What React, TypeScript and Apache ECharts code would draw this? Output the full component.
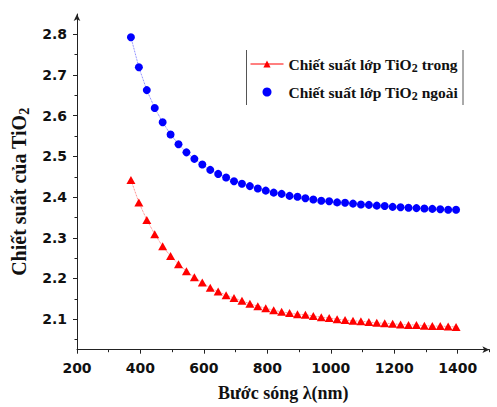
import React, { useEffect, useRef } from "react";
import * as echarts from "echarts";

const wavelength = [
  370, 395, 420, 445, 470, 495, 520, 545, 570, 595, 620, 645, 670, 695,
  720, 745, 770, 795, 820, 845, 870, 895, 920, 945, 970, 995, 1020, 1045,
  1070, 1095, 1120, 1145, 1170, 1195, 1220, 1245, 1270, 1295, 1320, 1345,
  1370, 1395,
];
const nInner = [
  2.442, 2.387, 2.344, 2.309, 2.279, 2.255, 2.235, 2.218, 2.203, 2.19,
  2.177, 2.168, 2.159, 2.152, 2.145, 2.138, 2.132, 2.127, 2.122, 2.118,
  2.115, 2.112, 2.111, 2.108, 2.105, 2.103, 2.1, 2.098, 2.096, 2.095, 2.093,
  2.091, 2.09, 2.089, 2.087, 2.086, 2.086, 2.084, 2.083, 2.083, 2.082, 2.081,
];
const nOuter = [
  2.793, 2.719, 2.663, 2.619, 2.584, 2.554, 2.53, 2.51, 2.494, 2.48, 2.467,
  2.457, 2.448, 2.439, 2.433, 2.427, 2.421, 2.416, 2.411, 2.408, 2.403,
  2.401, 2.397, 2.394, 2.391, 2.39, 2.387, 2.386, 2.384, 2.382, 2.381,
  2.379, 2.378, 2.376, 2.375, 2.374, 2.373, 2.372, 2.371, 2.37, 2.369, 2.369,
];
const xMajorTicks = [200, 400, 600, 800, 1000, 1200, 1400];
const xMinorTicks = [300, 500, 700, 900, 1100, 1300, 1500];
const yMajorTicks = [2.1, 2.2, 2.3, 2.4, 2.5, 2.6, 2.7, 2.8];
const yMinorTicks = [2.05, 2.15, 2.25, 2.35, 2.45, 2.55, 2.65, 2.75];
const seriesNames = ["Chiết suất lớp TiO2 trong", "Chiết suất lớp TiO2 ngoài"];

const SERIF = "'Liberation Serif', 'Times New Roman', serif";
const SANS = "'DejaVu Sans', sans-serif";
const AXIS_COLOR = "#222";

export default function App() {
  const ref = useRef<HTMLDivElement>(null);
  useEffect(() => {
    if (!ref.current) return;
    const chart = echarts.init(ref.current, undefined, { renderer: "svg" });
    const tickLabel = {
      fontFamily: SANS,
      fontWeight: "bold" as const,
      fontSize: 14,
      color: "#111",
    };
    chart.setOption({
      animation: false,
      backgroundColor: "#fff",
      grid: { left: 77, right: 7.6, top: 14, bottom: 57.3, containLabel: false },
      legend: {
        orient: "vertical",
        left: 245,
        top: 51,
        itemWidth: 33,
        itemHeight: 9,
        itemGap: 10,
        data: [
          { name: seriesNames[0], lineStyle: { type: "solid", width: 1, opacity: 1 } },
          { name: seriesNames[1], icon: "circle", itemStyle: { color: "#0000ff" } },
        ],
        formatter: (name: string) => name.replace("TiO2", "TiO{sub|2}"),
        textStyle: {
          fontFamily: SERIF,
          fontWeight: "bold",
          fontSize: 15.5,
          color: "#111",
          rich: {
            sub: {
              fontFamily: SERIF,
              fontWeight: "bold",
              fontSize: 12,
              color: "#111",
              padding: [8, 0, 0, 0],
            },
          },
        },
      },
      graphic: [
        { type: "line", shape: { x1: 246.5, y1: 50, x2: 246.5, y2: 105 }, style: { stroke: "#555", lineWidth: 1 } },
        { type: "line", shape: { x1: 463, y1: 50, x2: 463, y2: 105 }, style: { stroke: "#555", lineWidth: 1 } },
      ],
      xAxis: [
        {
          type: "value",
          min: 200,
          max: 1500,
          position: "bottom",
          axisLine: {
            onZero: false,
            lineStyle: { color: AXIS_COLOR, width: 1 },
            symbol: ["none", "arrow"],
            symbolSize: [5, 7],
          },
          axisTick: { customValues: xMajorTicks, length: 4, lineStyle: { color: AXIS_COLOR } },
          axisLabel: { customValues: xMajorTicks, margin: 11, ...tickLabel, formatter: (v: number) => String(v) },
          splitLine: { show: false },
          name: "Bước sóng λ(nm)",
          nameLocation: "middle",
          nameGap: 34,
          nameTextStyle: { fontFamily: SERIF, fontWeight: "bold", fontSize: 18, color: "#111" },
        },
        {
          type: "value",
          min: 200,
          max: 1500,
          position: "bottom",
          axisLine: { show: false, onZero: false },
          axisTick: { customValues: xMinorTicks, length: 2.5, lineStyle: { color: AXIS_COLOR } },
          axisLabel: { show: false },
          splitLine: { show: false },
        },
      ],
      yAxis: [
        {
          type: "value",
          min: 2.025,
          max: 2.85,
          position: "left",
          axisLine: {
            show: true,
            onZero: false,
            lineStyle: { color: AXIS_COLOR, width: 1 },
            symbol: ["none", "arrow"],
            symbolSize: [5, 7],
          },
          axisTick: { show: true, customValues: yMajorTicks, length: 4, lineStyle: { color: AXIS_COLOR } },
          axisLabel: { customValues: yMajorTicks, margin: 10, ...tickLabel, formatter: (v: number) => v.toFixed(1) },
          splitLine: { show: false },
          name: "Chiết suất của TiO{sub|2}",
          nameLocation: "middle",
          nameRotate: 90,
          nameGap: 46,
          nameTextStyle: {
            fontFamily: SERIF,
            fontWeight: "bold",
            fontSize: 20,
            color: "#111",
            padding: [0, 20, 0, 0],
            rich: {
              sub: {
                fontFamily: SERIF,
                fontWeight: "bold",
                fontSize: 14,
                color: "#111",
                padding: [10, 0, 0, 0],
              },
            },
          },
        },
        {
          type: "value",
          min: 2.025,
          max: 2.85,
          position: "left",
          axisLine: { show: false, onZero: false },
          axisTick: { show: true, customValues: yMinorTicks, length: 2.5, lineStyle: { color: AXIS_COLOR } },
          axisLabel: { show: false },
          splitLine: { show: false },
        },
      ],
      series: [
        {
          name: seriesNames[0],
          type: "line",
          xAxisIndex: 0,
          yAxisIndex: 0,
          data: wavelength.map((x, i) => [x, nInner[i]]),
          symbol: "triangle",
          symbolSize: [9, 8],
          itemStyle: { color: "#ff0000" },
          lineStyle: { color: "#ff0000", width: 0.8, type: "dotted", opacity: 0.7 },
          z: 3,
        },
        {
          name: seriesNames[1],
          type: "line",
          xAxisIndex: 0,
          yAxisIndex: 0,
          data: wavelength.map((x, i) => [x, nOuter[i]]),
          symbol: "circle",
          symbolSize: 8,
          itemStyle: { color: "#0000ff" },
          lineStyle: { color: "#0000ff", width: 0.8, type: "dotted", opacity: 0.7 },
          z: 3,
        },
      ],
    });
    return () => chart.dispose();
  }, []);
  return (
    <div
      ref={ref}
      style={{ position: "fixed", left: 0, top: 0, width: 497, height: 407, background: "#fff" }}
    />
  );
}
